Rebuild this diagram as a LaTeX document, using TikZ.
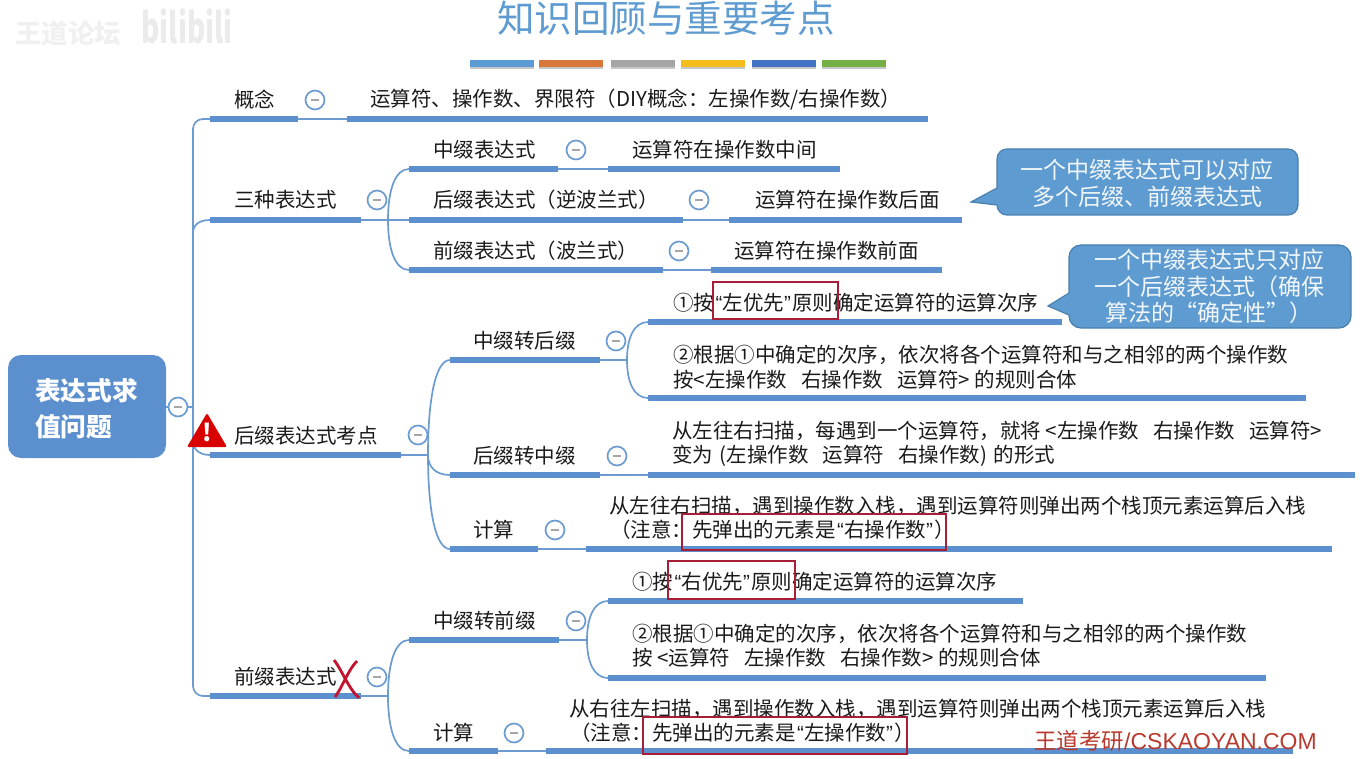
\documentclass[tikz,border=0pt]{standalone}
\usepackage{fontspec}
\usepackage{graphicx}
\setmainfont{Noto Sans CJK SC}
\newfontfamily\latq{Liberation Sans}
\usetikzlibrary{calc}
\definecolor{mapblue}{HTML}{5B8FCE}
\definecolor{linkblue}{HTML}{6C9BD2}
\definecolor{calloutblue}{HTML}{5E9BD0}
\definecolor{calloutedge}{HTML}{4A7FAE}
\definecolor{boxred}{HTML}{A81E36}
\definecolor{crossred}{HTML}{C4122F}
\definecolor{creditred}{HTML}{B83A2E}
\definecolor{inkc}{HTML}{1A1A1A}
\tikzset{
  barline/.style={draw=mapblue,line width=5.5pt},
  link/.style={draw=linkblue,line width=1.7pt},
  lbl/.style={anchor=west,inner sep=0pt,text=inkc,font=\fontsize{20.5}{25}\selectfont},
  minusnode/.style={circle,draw=linkblue,line width=1.7pt,fill=white,minimum size=19pt,inner sep=0pt},
  redbox/.style={draw=boxred,line width=2.5pt},
  calloutshape/.style={draw=calloutedge,fill=calloutblue,line width=1.2pt},
  callouttext/.style={inner sep=0pt,text=white!92!calloutblue,align=center,font=\fontsize{23}{26.5}\selectfont},
  titlebar/.style={minimum height=7pt,minimum width=64pt,inner sep=0pt},
}
\newcommand\topicbar[4]{\coordinate (#1-l) at (#2,#4); \coordinate (#1-r) at (#3,#4); \draw[barline] (#1-l) -- (#1-r);}
\newcommand\collapsemark[3]{\node[minusnode] (#1) at (#2,#3) {\textcolor{gray!70}{\rule{8pt}{1.6pt}}};}
\newcommand\forklink[2]{\draw[link] (#1) .. controls ($(#1)!0.6!(#1 |- #2)$) and ($(#1 |- #2)!0.35!(#2)$) .. (#2);}
\newcommand\qq[1]{\kern1.5pt{\latq\char"201C}#1{\latq\char"201D}\kern1.5pt}
\newcommand\opgap{\kern14pt}
\begin{document}
\begin{tikzpicture}[x=1pt,y=-1pt]
\path[use as bounding box] (0,0) rectangle (1362,759);

% watermark
\node[inner sep=0pt,text=black!6,font=\fontsize{26.5}{27}\selectfont\bfseries] (wm1) at (68,33) {王道论坛};
\node[inner sep=0pt,text=black!8,font=\fontsize{28}{28}\selectfont\bfseries] (wm2) at (187,26) {\scalebox{1}[1.5]{bilibili}};

% title
\node[inner sep=0pt,text=calloutblue,font=\fontsize{37.5}{40}\selectfont] (title) at (666,18.5) {知识回顾与重要考点};
\foreach \n/\cx/\c in {a/502/5B9BD5,b/571/D9763A,c/643/A5A5A5,d/713/F4BC1C,e/784/4472C4,f/854/74B043}{
  \definecolor{tb}{HTML}{\c}
  \node[titlebar,fill=black!22] (tbs\n) at (\cx,65.5) {};
  \node[titlebar,fill=tb] (tb\n) at (\cx,64) {};
}

% root
\node[draw=none,fill=mapblue,rounded corners=13pt,minimum width=158pt,minimum height=103pt,inner sep=0pt] (root) at (87,406.5) {};
\node[anchor=west,inner sep=0pt,text=white,align=left,font=\fontsize{25.7}{35.5}\selectfont\bfseries] (roottext) at (35,408.5) {表达式求\\值问题};

% bars
\topicbar{gn}{210}{298}{119}
\topicbar{gnv}{347}{928}{119}
\topicbar{sz}{210}{361}{220}
\topicbar{zh}{409}{558}{169}
\topicbar{zhv}{608}{840}{169}
\topicbar{hz}{409}{683}{220}
\topicbar{hzv}{729}{962}{220}
\topicbar{qz}{409}{663}{270}
\topicbar{qzv}{711}{942}{270}
\topicbar{hk}{210}{401}{455}
\topicbar{zh2}{450}{600}{360}
\topicbar{zh2a}{648}{1062}{322}
\topicbar{zh2b}{648}{1306}{398}
\topicbar{hz2}{450}{600}{475}
\topicbar{hz2v}{648}{1355}{475}
\topicbar{js}{450}{538}{549}
\topicbar{jsv}{586}{1332}{549}
\topicbar{qk}{210}{361}{696}
\topicbar{zq}{409}{559}{640}
\topicbar{zqa}{608}{1023}{601}
\topicbar{zqb}{608}{1266}{678}
\topicbar{jq}{409}{498}{751}
\topicbar{jqv}{546}{1293}{751}

% hubs
\coordinate (szhub) at (388,220);
\coordinate (hkhub) at (428,455);
\coordinate (zh2hub) at (627,360);
\coordinate (qkhub) at (388,696);
\coordinate (zqhub) at (587,640);
\coordinate (trunkroot) at (193,407);
\coordinate (trunktop) at (193,119);
\coordinate (trunkbot) at (193,696);
\coordinate (trunkup) at (193,233);
\coordinate (trunkdown) at (193,441);

% connectors
\draw[link] (root.east |- trunkroot) -- (trunkroot);
\draw[link,rounded corners=10pt] (gn-l) -- (trunktop) -- (trunkbot) -- (qk-l);
\draw[link] (sz-l) .. controls +(-11,0) and +(0,-8) .. (trunkup);
\draw[link] (hk-l) .. controls +(-11,0) and +(0,8) .. (trunkdown);
\draw[link] (gn-r) -- (gnv-l);
\draw[link] (sz-r) -- (zh-l |- sz-r);
\draw[link] (zh-r) -- (zhv-l);
\draw[link] (hz-r) -- (hzv-l);
\draw[link] (qz-r) -- (qzv-l);
\forklink{szhub}{zh-l}
\forklink{szhub}{qz-l}
\draw[link] (hk-r) -- (hkhub);
\forklink{hkhub}{zh2-l}
\forklink{hkhub}{hz2-l}
\forklink{hkhub}{js-l}
\draw[link] (zh2-r) -- (zh2hub);
\forklink{zh2hub}{zh2a-l}
\forklink{zh2hub}{zh2b-l}
\draw[link] (hz2-r) -- (hz2v-l);
\draw[link] (js-r) -- (jsv-l);
\draw[link] (qk-r) -- (qkhub);
\forklink{qkhub}{zq-l}
\forklink{qkhub}{jq-l}
\draw[link] (zq-r) -- (zqhub);
\forklink{zqhub}{zqa-l}
\forklink{zqhub}{zqb-l}
\draw[link] (jq-r) -- (jqv-l);

% collapse marks
\collapsemark{c0}{178}{407}
\collapsemark{c1}{315}{100}
\collapsemark{c2}{377}{200}
\collapsemark{c3}{576}{150}
\collapsemark{c4}{699}{200}
\collapsemark{c5}{679}{251}
\collapsemark{c6}{418}{435}
\collapsemark{c7}{616}{341}
\collapsemark{c8}{617}{456}
\collapsemark{c9}{555}{530}
\collapsemark{c10}{377}{677}
\collapsemark{c11}{576}{621}
\collapsemark{c12}{514}{733}

% labels
\node[lbl] (t1) at (234,100) {概念};
\node[lbl] (t1v) at (370,100) {运算符、操作数、界限符（DIY概念：左操作数/右操作数）};
\node[lbl] (t2) at (234,200) {三种表达式};
\node[lbl] (t2a) at (433,150) {中缀表达式};
\node[lbl] (t2av) at (632,150) {运算符在操作数中间};
\node[lbl] (t2b) at (433,200) {后缀表达式（逆波兰式）};
\node[lbl] (t2bv) at (755,200) {运算符在操作数后面};
\node[lbl] (t2c) at (433,251) {前缀表达式（波兰式）};
\node[lbl] (t2cv) at (734,251) {运算符在操作数前面};
\node[lbl] (t3) at (234,436) {后缀表达式考点};
\node[lbl] (t3a) at (473,341) {中缀转后缀};
\node[lbl] (t3a1) at (673,303) {①按\qq{左优先}原则确定运算符的运算次序};
\node[lbl] (t3a2) at (673,355) {②根据①中确定的次序，依次将各个运算符和与之相邻的两个操作数};
\node[lbl] (t3a3) at (673,380) {按<左操作数\opgap 右操作数\opgap 运算符> 的规则合体};
\node[lbl] (t3b) at (473,456) {后缀转中缀};
\node[lbl] (t3b1) at (672,431) {从左往右扫描，每遇到一个运算符，就将 <左操作数\opgap 右操作数\opgap 运算符>};
\node[lbl] (t3b2) at (672,456) {变为 \kern2pt(左操作数\opgap 运算符\opgap 右操作数)\kern2pt\ 的形式};
\node[lbl] (t3c) at (473,530) {计算};
\node[lbl] (t3c1) at (609,506) {从左往右扫描，遇到操作数入栈，遇到运算符则弹出两个栈顶元素运算后入栈};
\node[lbl] (t3c2) at (610,530) {（注意：先弹出的元素是\qq{右操作数}）};
\node[lbl] (t4) at (234,677) {前缀表达式};
\node[lbl] (t4a) at (433,621) {中缀转前缀};
\node[lbl] (t4a1) at (632,582) {①按\qq{右优先}原则确定运算符的运算次序};
\node[lbl] (t4a2) at (632,634) {②根据①中确定的次序，依次将各个运算符和与之相邻的两个操作数};
\node[lbl] (t4a3) at (632,658) {按 <运算符\opgap 左操作数\opgap 右操作数> 的规则合体};
\node[lbl] (t4b) at (433,733) {计算};
\node[lbl] (t4b1) at (569,709) {从右往左扫描，遇到操作数入栈，遇到运算符则弹出两个栈顶元素运算后入栈};
\node[lbl] (t4b2) at (570,733) {（注意：先弹出的元素是\qq{左操作数}）};

% red highlight boxes
\node[redbox,minimum width=125pt,minimum height=37pt,inner sep=0pt] (r1) at (775.5,300.5) {};
\node[redbox,minimum width=264pt,minimum height=36pt,inner sep=0pt] (r2) at (814,532) {};
\node[redbox,minimum width=127pt,minimum height=38pt,inner sep=0pt] (r3) at (731.5,580) {};
\node[redbox,minimum width=264pt,minimum height=37pt,inner sep=0pt] (r4) at (775,735.5) {};

% callouts
\draw[calloutshape,rounded corners=10pt] (997,149) rectangle (1298,215);
\fill[calloutblue] (998,188) -- (971,202) -- (998,205) -- cycle;
\draw[draw=calloutedge,line width=1.2pt] (997,188) -- (971,202) -- (997,205);
\node[callouttext] (n1) at (1147,183) {一个中缀表达式可以对应\\多个后缀、前缀表达式};
\draw[calloutshape,rounded corners=12pt] (1069,245) rectangle (1351,328);
\fill[calloutblue] (1070,293) -- (1048,306) -- (1070,315) -- cycle;
\draw[draw=calloutedge,line width=1.2pt] (1069,293) -- (1048,306) -- (1069,315);
\node[callouttext] (n2) at (1209,286.5) {一个中缀表达式只对应\\一个后缀表达式（确保\\算法的“确定性”）};

% warning sign
\fill[red!85!black,rounded corners=2pt] (187,447) -- (207,413) -- (227,447) -- cycle;
\node[inner sep=0pt,text=white,font=\fontsize{24}{24}\selectfont\bfseries] (warn) at (207,432) {!};

% red cross
\draw[crossred,line width=2.8pt] (334,660) .. controls (342,670) and (348,688) .. (359,698);
\draw[crossred,line width=2.8pt] (357,661) .. controls (348,670) and (342,688) .. (335,697);

% credit
\node[anchor=west,inner sep=0pt,text=creditred,font=\fontsize{22.5}{24}\selectfont] (credit) at (1034,741) {王道考研{\latq\fontsize{23}{24}\selectfont /CSKAOYAN.COM}};
\end{tikzpicture}
\end{document}
